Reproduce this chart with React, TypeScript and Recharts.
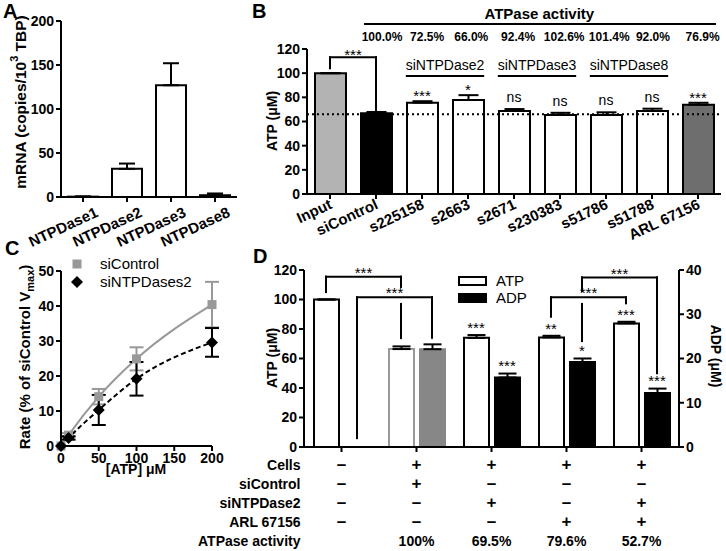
import React from "react";
import {
  Bar,
  BarChart,
  Cell,
  ErrorBar,
  Legend,
  Line,
  LineChart,
  ReferenceDot,
  ReferenceLine,
  XAxis,
  YAxis,
} from "recharts";

const FONT = '"Liberation Sans", Arial, Helvetica, sans-serif';

// ---- A: NTPDase mRNA levels
const genesA = ["NTPDase1", "NTPDase2", "NTPDase3", "NTPDase8"];
const mrnaA = [0.4, 32, 127, 2];
const mrnaSemA = [0.2, 6, 25, 2];

// ---- B: ATP left after knock-down
const samplesB = ["Input", "siControl", "s225158", "s2663", "s2671", "s230383", "s51786", "s51788", "ARL 67156"];
const atpB = [100, 66.8, 75.6, 77.8, 68.7, 65.4, 65.4, 68.7, 73.9];
const atpSemB = [0, 1.1, 1.2, 4, 1.6, 1.8, 2.2, 1.9, 1.6];
const activityB = ["", "100.0%", "72.5%", "66.0%", "92.4%", "102.6%", "101.4%", "92.0%", "76.9%"];
const signifB = ["", "", "***", "*", "ns", "ns", "ns", "ns", "***"];
const siGroupsB = ["siNTPDase2", "siNTPDase3", "siNTPDase8"];
const siControlLevelB = 66;

// ---- C: hydrolysis rate vs ATP
const atpConcC = [0, 10, 50, 100, 200];
const rateCtrlC = [0, 3.1, 14.1, 24.9, 40.4];
const rateCtrlSemC = [0, 0.6, 2.2, 3.3, 6.5];
const rateSi2C = [0, 2.3, 10.3, 19.2, 29.6];
const rateSi2SemC = [0, 0.5, 4.3, 4.8, 4.1];
const seriesC = ["siControl", "siNTPDases2"];

// ---- D: ATP / ADP
const conditionsD = ["c1", "c2", "c3", "c4", "c5"];
const atpD = [100, 66.4, 74, 74.3, 83.8];
const atpSemD = [0, 1.8, 1.9, 1.1, 1.1];
const adpD = [null, 22.1, 15.7, 19.2, 12.2];
const adpSemD = [null, 1.1, 0.9, 0.8, 1.0];
const signifAtpD = ["", "", "***", "**", "***"];
const signifAdpD = ["", "", "***", "*", "***"];
const seriesD = ["ATP", "ADP"];
const rowLabelsD = ["Cells", "siControl", "siNTPDase2", "ARL 67156", "ATPase activity"];
const cellsD = ["–", "+", "+", "+", "+"];
const siControlD = ["–", "+", "–", "–", "–"];
const siNTPDase2D = ["–", "–", "+", "–", "+"];
const arlD = ["–", "–", "–", "+", "+"];
const activityD = ["", "100%", "69.5%", "79.6%", "52.7%"];

const AX = { stroke: "#000", strokeWidth: 2 };
const TICK = { fill: "#000", fontSize: 14, fontWeight: "bold", fontFamily: FONT };

const Title = ({ x, y, angle = -90, size = 14, children }: any) => (
  <text
    x={x}
    y={y}
    transform={`rotate(${angle} ${x} ${y})`}
    textAnchor="middle"
    dominantBaseline="central"
    fontFamily={FONT}
    fontSize={size}
    fontWeight="bold"
    fill="#000"
  >
    {children}
  </text>
);

const SlantTick = ({ x, y, payload, offX, offY }: any) => {
  const ax = x + offX;
  const ay = y + offY;
  return (
    <text x={ax} y={ay} transform={`rotate(-25 ${ax} ${ay})`} textAnchor="end"
      fontFamily={FONT} fontSize={15} fontWeight="bold" fill="#000">
      {payload.value}
    </text>
  );
};

// text drawn at a data point (stars sit high in the em box, so shift them down)
const textShape = (label: string, size = 14, weight = "normal") => (p: any) => {
  const star = label.includes("*");
  return (
    <text
      x={p.cx}
      y={star ? p.cy + 8.5 : p.cy}
      textAnchor="middle"
      dominantBaseline={star ? "auto" : "central"}
      fontFamily={FONT}
      fontSize={star ? 15 : size}
      fontWeight={weight}
      fill="#000"
    >
      {label}
    </text>
  );
};

const mark = (key: string, x: number, y: number, label: string, axes: any, size?: number, weight?: string) => (
  <ReferenceDot key={key} x={x} y={y} r={0} ifOverflow="visible" {...axes} shape={textShape(label, size, weight)} />
);

const seg = (key: string, x1: number, y1: number, x2: number, y2: number, axes: any) => (
  <ReferenceLine
    key={key}
    segment={[{ x: x1, y: y1 }, { x: x2, y: y2 }]}
    ifOverflow="visible"
    stroke="#000"
    strokeWidth={2}
    strokeLinecap="square"
    {...axes}
  />
);

const bracket = (key: string, b: any, axes: any) => [
  seg(key + "l", b.x1, b.y1, b.x1, b.top, axes),
  seg(key + "t", b.x1, b.top, b.x2, b.top, axes),
  seg(key + "r", b.x2, b.top, b.x2, b.y2, axes),
  mark(key + "s", (b.x1 + b.x2) / 2, b.top + 5, "***", axes),
];

const Letter = ({ x, y, children }: any) => (
  <div style={{ position: "absolute", left: x, top: y, fontSize: 20, fontWeight: "bold", fontFamily: FONT }}>
    {children}
  </div>
);

// ---------------- A
const ChartA = () => {
  const data = genesA.map((g, i) => ({ gene: g, mrna: mrnaA[i], err: [0, mrnaSemA[i]] }));
  return (
    <BarChart width={245} height={250} data={data} margin={{ top: 21, right: 8, bottom: 0, left: 25 }}>
      <XAxis dataKey="gene" height={53} interval={0} axisLine={AX} tickLine={AX} tickSize={5}
        tick={(p: any) => <SlantTick {...p} offX={16} offY={12} />} />
      <YAxis width={36} domain={[0, 200]} ticks={[0, 50, 100, 150, 200]} axisLine={AX} tickLine={AX}
        tickSize={5} tick={TICK} />
      <Bar dataKey="mrna" fill="#fff" stroke="#000" strokeWidth={2} barSize={30} isAnimationActive={false}>
        <ErrorBar dataKey="err" width={8} stroke="#000" strokeWidth={2} direction="y" />
      </Bar>
    </BarChart>
  );
};

// ---------------- B
const fillB = ["#b3b3b3", "#000", "#fff", "#fff", "#fff", "#fff", "#fff", "#fff", "#6e6e6e"];
const ChartB = () => {
  const data = samplesB.map((s, i) => ({ sample: s, pos: i + 0.5, atp: atpB[i], err: [0, atpSemB[i]] }));
  const n = { xAxisId: "n" };
  const pctX = [0, 1.63, 2.61, 3.57, 4.59, 5.59, 6.57, 7.52, 8.6];
  return (
    <BarChart width={476} height={260} data={data} margin={{ top: 49, right: 5, bottom: 0, left: 17 }}>
      <XAxis dataKey="sample" height={66} interval={0} axisLine={AX} tickLine={AX} tickSize={5}
        tick={(p: any) => <SlantTick {...p} offX={3} offY={7} />} />
      <XAxis xAxisId="n" dataKey="pos" type="number" scale="linear" domain={[0, samplesB.length]} hide
        allowDataOverflow />
      <YAxis width={40} domain={[0, 120]} ticks={[0, 20, 40, 60, 80, 100, 120]} axisLine={AX} tickLine={AX}
        tickSize={5} tick={TICK} />
      <ReferenceLine y={siControlLevelB} stroke="#000" strokeWidth={2} strokeDasharray="2 3" />
      <Bar dataKey="atp" stroke="#000" strokeWidth={2} barSize={31} isAnimationActive={false}>
        {data.map((d, i) => (
          <Cell key={d.sample} fill={fillB[i]} />
        ))}
        <ErrorBar dataKey="err" width={10} stroke="#000" strokeWidth={2} direction="y" />
      </Bar>
      {bracket("b1", { x1: 0.5, x2: 1.5, top: 113.2, y1: 104, y2: 69 }, n)}
      {signifB.map((s, i) =>
        s ? mark("sg" + i, i + 0.5, atpB[i] + atpSemB[i] + (s === "ns" ? 10 : 7), s, n) : null
      )}
      {siGroupsB.map((g, k) => [
        mark("g" + k, 3 + 2 * k, 106.8, g, n, 14),
        seg("gl" + k, 2.17 + 2 * k, 97.7, 3.83 + 2 * k, 97.7, n),
      ])}
      {activityB.map((a, i) => (a ? mark("p" + i, pctX[i], 130, a, n, 12, "bold") : null))}
      {seg("al", 1.26, 140.7, 8.87, 140.7, n)}
      {mark("at", 5.05, 149, "ATPase activity", n, 15, "bold")}
    </BarChart>
  );
};

// ---------------- C
const SquareDot = ({ cx, cy }: any) => <rect x={cx - 4.5} y={cy - 4.5} width={9} height={9} fill="#999" />;
const DiamondDot = ({ cx, cy }: any) => (
  <path d={`M${cx} ${cy - 6}L${cx + 6} ${cy}L${cx} ${cy + 6}L${cx - 6} ${cy}Z`} fill="#000" />
);
const LegendC = ({ payload }: any) => {
  const items = [...(payload || [])].sort((a: any, b: any) => seriesC.indexOf(a.value) - seriesC.indexOf(b.value));
  return (
    <div style={{ fontFamily: FONT, fontSize: 15, lineHeight: "18px", color: "#000" }}>
      {items.map((e: any) => (
        <div key={e.value} style={{ display: "flex", alignItems: "center" }}>
          <svg width={14} height={14}>
            {e.value === seriesC[0] ? (
              <rect x={2.5} y={2.5} width={9} height={9} fill="#999" />
            ) : (
              <path d="M7 1L13 7L7 13L1 7Z" fill="#000" />
            )}
          </svg>
          <span style={{ marginLeft: 16 }}>{e.value}</span>
        </div>
      ))}
    </div>
  );
};
const ChartC = () => {
  const data = atpConcC.map((x, i) => ({
    x,
    ctrl: rateCtrlC[i],
    ctrlErr: rateCtrlSemC[i],
    si2: rateSi2C[i],
    si2Err: rateSi2SemC[i],
  }));
  return (
    <LineChart width={240} height={230} data={data} margin={{ top: 21, right: 28, bottom: 0, left: 23 }}>
      <XAxis dataKey="x" type="number" domain={[0, 200]} ticks={[0, 50, 100, 150, 200]} height={34}
        axisLine={AX} tickLine={AX} tickSize={5} tick={TICK} />
      <YAxis width={38} domain={[0, 50]} ticks={[0, 10, 20, 30, 40, 50]} axisLine={AX} tickLine={AX}
        tickSize={5} tick={TICK} />
      <Legend layout="vertical" align="center" verticalAlign="middle" content={<LegendC />}
        wrapperStyle={{ left: 70, top: 5, width: 150, height: 40 }} />
      <Line dataKey="ctrl" name={seriesC[0]} type="monotone" stroke="#999" strokeWidth={2}
        dot={<SquareDot />} isAnimationActive={false}>
        <ErrorBar dataKey="ctrlErr" width={7} stroke="#999" strokeWidth={2} direction="y" />
      </Line>
      <Line dataKey="si2" name={seriesC[1]} type="monotone" stroke="#000" strokeWidth={2} strokeDasharray="5 3"
        dot={<DiamondDot />} isAnimationActive={false}>
        <ErrorBar dataKey="si2Err" width={7} stroke="#000" strokeWidth={2} direction="y" />
      </Line>
    </LineChart>
  );
};

// ---------------- D
const atpStrokeD = ["#000", "#999", "#000", "#000", "#000"];
const adpFillD = ["#000", "#878787", "#000", "#000", "#000"];
const rowsD = [cellsD, siControlD, siNTPDase2D, arlD, activityD];

const TableTick = ({ x, y, index }: any) => (
  <g fontFamily={FONT} fontWeight="bold" fill="#000">
    {index === 0 &&
      rowLabelsD.map((r, k) => (
        <text key={r} x={x - 41} y={y + 10.5 + 19 * k} textAnchor="end" dominantBaseline="central" fontSize={14}>
          {r}
        </text>
      ))}
    {rowsD.map((row, k) => (
      <text key={k} x={x} y={y + 10.5 + 19 * k} textAnchor="middle" dominantBaseline="central"
        fontSize={k < 4 ? 17 : 14}>
        {row[index]}
      </text>
    ))}
  </g>
);

const LegendD = ({ payload }: any) => {
  const items = [...(payload || [])].sort((a: any, b: any) => seriesD.indexOf(a.value) - seriesD.indexOf(b.value));
  return (
    <div style={{ fontFamily: FONT, fontSize: 15, lineHeight: "17px", color: "#000" }}>
      {items.map((e: any) => (
        <div key={e.value} style={{ display: "flex", alignItems: "center" }}>
          <span style={{ display: "inline-block", width: 25, height: 6, border: "2px solid #000",
            background: e.value === seriesD[0] ? "#fff" : "#000" }} />
          <span style={{ marginLeft: 9 }}>{e.value}</span>
        </div>
      ))}
    </div>
  );
};

const ChartD = () => {
  const data = conditionsD.map((c, i) => ({
    cond: c,
    pos: i + 0.5,
    atp: atpD[i],
    atpErr: [0, atpSemD[i]],
    adp: adpD[i],
    adpErr: adpD[i] == null ? null : [0, adpSemD[i] as number],
  }));
  const l = { xAxisId: "n", yAxisId: "l" };
  const r = { xAxisId: "n", yAxisId: "r" };
  const off = 0.207;
  return (
    <BarChart width={486} height={296} data={data} barGap={6} margin={{ top: 15, right: 9, bottom: 0, left: 19 }}>
      <XAxis dataKey="cond" height={104} interval={0} axisLine={AX} tickLine={AX} tickSize={5}
        tick={(p: any) => <TableTick {...p} />} />
      <XAxis xAxisId="n" dataKey="pos" type="number" scale="linear" domain={[0, conditionsD.length]} hide
        allowDataOverflow />
      <YAxis yAxisId="l" width={45} domain={[0, 120]} ticks={[0, 20, 40, 60, 80, 100, 120]} axisLine={AX}
        tickLine={AX} tickSize={5} tick={TICK} />
      <YAxis yAxisId="r" orientation="right" width={38} domain={[0, 40]} ticks={[0, 10, 20, 30, 40]}
        axisLine={AX} tickLine={AX} tickSize={5} tick={TICK} />
      <Legend layout="vertical" align="center" verticalAlign="middle" content={<LegendD />}
        wrapperStyle={{ left: 218, top: 17, width: 80, height: 36 }} />
      <Bar yAxisId="l" dataKey="atp" name={seriesD[0]} fill="#fff" stroke="#000" strokeWidth={2} barSize={25}
        isAnimationActive={false}>
        {data.map((d, i) => (
          <Cell key={d.cond} fill="#fff" stroke={atpStrokeD[i]} />
        ))}
        <ErrorBar dataKey="atpErr" width={9} stroke="#000" strokeWidth={2} direction="y" />
      </Bar>
      <Bar yAxisId="r" dataKey="adp" name={seriesD[1]} fill="#000" stroke="#000" strokeWidth={2} barSize={25}
        isAnimationActive={false}>
        {data.map((d, i) => (
          <Cell key={d.cond} fill={adpFillD[i]} stroke={adpFillD[i]} />
        ))}
        <ErrorBar dataKey="adpErr" width={9} stroke="#000" strokeWidth={2} direction="y" />
      </Bar>
      {signifAtpD.map((s, i) => (s ? mark("sa" + i, i + 0.5 - off, atpD[i] + atpSemD[i] + 7, s, l) : null))}
      {signifAdpD.map((s, i) =>
        s ? mark("sd" + i, i + 0.5 + off, (adpD[i] as number) + (adpSemD[i] as number) + 2.4, s, r) : null
      )}
      {bracket("d1", { x1: 0.5 - off, x2: 1.5 - off, top: 115.5, y1: 105, y2: 108.5 }, l)}
      {bracket("d2", { x1: 0.5 + off, x2: 1.5 + off, top: 101.5, y1: 6, y2: 74 }, l)}
      {seg("d2v", 1.5 - off, 97, 1.5 - off, 73.8, l)}
      {bracket("d3", { x1: 3.5 - off, x2: 4.5 - off, top: 101.5, y1: 88.3, y2: 97.4 }, l)}
      {bracket("d4", { x1: 3.5 + off, x2: 4.5 + off, top: 115, y1: 105.8, y2: 50 }, l)}
      {seg("d4v", 3.5 + off, 97, 3.5 + off, 71.8, l)}
    </BarChart>
  );
};

export default function App() {
  return (
    <div style={{ position: "absolute", left: 0, top: 0, width: 726, height: 551, background: "#fff" }}>
      <style>{".recharts-surface{overflow:visible}"}</style>
      <div style={{ position: "absolute", left: 0, top: 0 }}>
        <ChartA />
      </div>
      <div style={{ position: "absolute", left: 250, top: 0 }}>
        <ChartB />
      </div>
      <div style={{ position: "absolute", left: 0, top: 250 }}>
        <ChartC />
      </div>
      <div style={{ position: "absolute", left: 240, top: 255 }}>
        <ChartD />
      </div>
      {/* axis titles */}
      <svg width={726} height={551} style={{ position: "absolute", left: 0, top: 0, pointerEvents: "none" }}>
        <Title x={20} y={102} size={15.5}>
          mRNA (copies/10<tspan baselineShift="super" fontSize={11}>3</tspan> TBP)
        </Title>
        <Title x={272} y={121}>ATP (μM)</Title>
        <Title x={24} y={357} size={15}>
          Rate (% of siControl V<tspan baselineShift="sub" fontSize={11}>max</tspan>)
        </Title>
        <Title x={136} y={469} angle={0}>[ATP] μM</Title>
        <Title x={272} y={358}>ATP (μM)</Title>
        <Title x={716} y={356} angle={90}>ADP (μM)</Title>
      </svg>
      <Letter x={3} y={0}>A</Letter>
      <Letter x={252} y={0}>B</Letter>
      <Letter x={5} y={237}>C</Letter>
      <Letter x={253} y={245}>D</Letter>
    </div>
  );
}
